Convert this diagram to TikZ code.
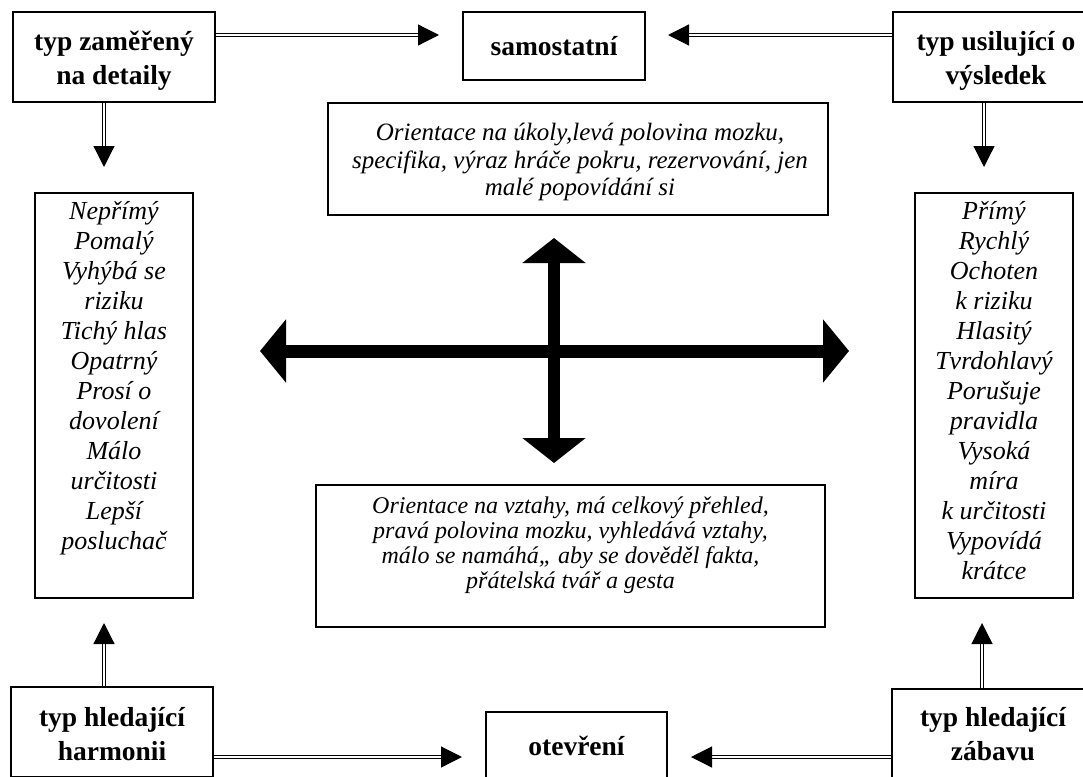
\documentclass[tikz,border=0pt]{standalone}
\usepackage{fontspec}
\setmainfont{Liberation Serif}
\usetikzlibrary{arrows.meta,calc}
\begin{document}
\begin{tikzpicture}[x=1pt,y=-1pt,
  box/.style={draw, line width=2pt, inner sep=0pt, align=center},
  boldtxt/.style={font=\fontsize{27.5}{34}\selectfont\bfseries},
  midtxt/.style={font=\fontsize{25}{27.5}\selectfont\itshape, align=center, inner sep=0pt},
  lowtxt/.style={font=\fontsize{24}{25}\selectfont\itshape, align=center, inner sep=0pt},
  sidetxt/.style={font=\fontsize{26}{30}\selectfont\itshape, align=center, inner sep=0pt},
  cornerbox/.style={box, minimum width=202pt, minimum height=90pt},
  cornertxt/.style={boldtxt, align=center, inner sep=0pt},
  dbl/.style={draw, double, double distance=2.2pt, line width=1.2pt, arrows={-Triangle[length=21pt,width=21pt]}},
  bigarrow/.style={line width=13pt, arrows={Triangle[length=26pt,width=62pt]-Triangle[length=26pt,width=62pt]}}
]
\useasboundingbox (0,0) rectangle (1083,776);

% corner boxes
\node[cornerbox] (tl) at (114,57) {};
\node[cornertxt] (tlt) at (114,61) {typ zaměřený\\na detaily};
\node[cornerbox] (tr) at (994,57) {};
\node[cornertxt] (trt) at (996,61) {typ usilující o\\výsledek};
\node[cornerbox] (bl) at (112,732) {};
\node[cornertxt] (blt) at (112,734) {typ hledající\\harmonii};
\node[cornerbox] (br) at (993,734) {};
\node[cornertxt] (brt) at (993,734) {typ hledající\\zábavu};

% title boxes
\node[box, boldtxt, minimum width=182pt, minimum height=68pt] (sam) at (554,46) {samostatní};
\node[box, boldtxt, minimum width=181pt, minimum height=68pt] (ote) at (576.5,746) {otevření};

% side boxes
\node[box, minimum width=158pt, minimum height=405pt] (lb) at (114,395.5) {};
\node[sidetxt, anchor=north] (lbt) at (114,201) {Nepřímý\\Pomalý\\Vyhýbá se\\riziku\\Tichý hlas\\Opatrný\\Prosí o\\dovolení\\Málo\\určitosti\\Lepší\\posluchač};
\node[box, minimum width=158pt, minimum height=405pt] (rb) at (994,395.5) {};
\node[sidetxt, anchor=north] (rbt) at (994,201) {Přímý\\Rychlý\\Ochoten\\k riziku\\Hlasitý\\Tvrdohlavý\\Porušuje\\pravidla\\Vysoká\\míra\\k určitosti\\Vypovídá\\krátce};

% middle boxes
\node[box, minimum width=500pt, minimum height=112pt] (mt) at (578,159) {};
\node[midtxt, anchor=north] (mtt) at (580,123) {Orientace na úkoly,levá polovina mozku,\\specifika, výraz hráče pokru, rezervování, jen\\malé popovídání si};
\node[box, minimum width=509pt, minimum height=142pt] (mb) at (570.5,556) {};
\node[lowtxt, anchor=north] (mbt) at (570.5,497) {Orientace na vztahy, má celkový přehled,\\pravá polovina mozku, vyhledává vztahy,\\málo se namáhá,, aby se dověděl fakta,\\přátelská tvář a gesta};

% helper rows/columns
\coordinate (rowtop) at (0,35);
\coordinate (rowbot) at (0,757);
\coordinate (colL) at (104,0);
\coordinate (colR) at (984,0);
\coordinate (colRb) at (982,0);

% double arrows
\draw[dbl] (tl.east |- rowtop) -- ($(sam.west |- rowtop)+(-23,0)$);
\draw[dbl] (tr.west |- rowtop) -- ($(sam.east |- rowtop)+(22,0)$);
\draw[dbl] (bl.east |- rowbot) -- ($(ote.west |- rowbot)+(-23,0)$);
\draw[dbl] (br.west |- rowbot) -- ($(ote.east |- rowbot)+(23,0)$);
\draw[dbl] (tl.south -| colL) -- ($(lb.north -| colL)+(0,-25)$);
\draw[dbl] (tr.south -| colR) -- ($(rb.north -| colR)+(0,-25)$);
\draw[dbl] (bl.north -| colL) -- ($(lb.south -| colL)+(0,24)$);
\draw[dbl] (br.north -| colRb) -- ($(rb.south -| colRb)+(0,24)$);

% central cross
\coordinate (hl) at (260,351);
\coordinate (hr) at (849,351);
\coordinate (vt) at (554,238);
\coordinate (vb) at (554,463);
\draw[bigarrow] (hl) -- (hr);
\draw[bigarrow, line width=12pt, arrows={Triangle[length=25pt,width=62pt]-Triangle[length=25pt,width=62pt]}] (vt) -- (vb);
\end{tikzpicture}
\end{document}
